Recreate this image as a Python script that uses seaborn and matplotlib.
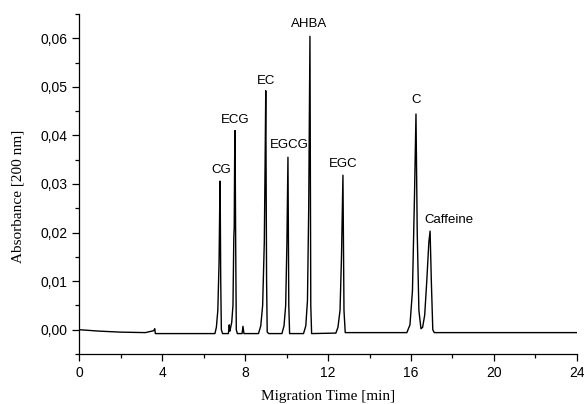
import matplotlib
matplotlib.use("Agg")
import matplotlib.pyplot as plt
from matplotlib.ticker import MultipleLocator, FuncFormatter
import seaborn as sns
import pandas as pd

# Electropherogram trace (time in min, absorbance)
time_min = [0.0, 1.0, 2.0, 3.2, 3.6, 3.65, 3.68, 5.0, 6.55,
            6.62, 6.69, 6.75, 6.78, 6.80, 6.83, 6.86, 6.92,
            7.20, 7.24, 7.27, 7.31, 7.36, 7.42, 7.46, 7.48, 7.50, 7.52, 7.55, 7.58, 7.63,
            7.86, 7.90, 7.95,
            8.65, 8.76, 8.85, 8.93, 8.97, 9.00, 9.04, 9.07, 9.15,
            9.78, 9.88, 9.96, 10.02, 10.07, 10.11, 10.15,
            10.82, 10.93, 11.01, 11.07, 11.13, 11.17, 11.21,
            12.38, 12.48, 12.58, 12.65, 12.72, 12.77, 12.83,
            15.80, 15.95, 16.07, 16.17, 16.24, 16.30, 16.38, 16.48, 16.56,
            16.66, 16.76, 16.86, 16.92, 16.98, 17.05, 17.12, 24.0]
absorbance = [0.0, -0.0003, -0.0005, -0.0006, -0.0002, 0.0002, -0.0008, -0.0008, -0.0008,
              0.0005, 0.004, 0.014, 0.025, 0.0306, 0.010, 0.000, -0.0008,
              -0.0008, 0.0010, -0.0003, 0.0005, 0.0015, 0.005, 0.019, 0.021, 0.035, 0.0410, 0.018, 0.000, -0.0008,
              -0.0008, 0.0007, -0.0008,
              -0.0008, 0.0008, 0.005, 0.018, 0.035, 0.0492, 0.010, -0.0005, -0.0008,
              -0.0008, 0.0008, 0.005, 0.018, 0.0355, 0.005, -0.0008,
              -0.0008, 0.0008, 0.006, 0.025, 0.0604, 0.005, -0.0008,
              -0.0007, 0.0005, 0.004, 0.015, 0.0318, 0.004, -0.0006,
              -0.0006, 0.001, 0.008, 0.028, 0.0444, 0.020, 0.004, 0.0002, 0.0005,
              0.003, 0.010, 0.018, 0.0203, 0.010, 0.000, -0.0006, -0.0006]

peak_names = ["CG", "ECG", "EC", "EGCG", "AHBA", "EGC", "C", "Caffeine"]
label_x = [6.84, 7.52, 9.01, 10.12, 11.08, 12.72, 16.24, 17.83]
label_y = [0.0329, 0.0431, 0.0511, 0.0380, 0.0630, 0.0341, 0.0472, 0.0226]

df = pd.DataFrame({"t": time_min, "a": absorbance})

sns.set_style("ticks")
plt.rcParams.update({"text.color": "black", "axes.labelcolor": "black",
                     "xtick.color": "black", "ytick.color": "black",
                     "axes.edgecolor": "black"})
fig = plt.figure(figsize=(5.84, 4.04), dpi=100)
ax = fig.add_axes([0.1353, 0.1238, 0.8527, 0.8416])
sns.lineplot(data=df, x="t", y="a", ax=ax, color="black", linewidth=1.0,
             estimator=None, sort=False)

for name, x, y in zip(peak_names, label_x, label_y):
    ax.text(x, y, name, ha="center", va="center", fontsize=9.5,
            family="Liberation Sans", color="black")

ax.set_xlim(0, 24)
ax.set_ylim(-0.005, 0.065)
ax.xaxis.set_major_locator(MultipleLocator(4))
ax.xaxis.set_minor_locator(MultipleLocator(2))
ax.yaxis.set_major_locator(MultipleLocator(0.01))
ax.yaxis.set_minor_locator(MultipleLocator(0.005))
ax.yaxis.set_major_formatter(FuncFormatter(lambda v, p: f"{v:.2f}".replace(".", ",").replace("-0,00", "0,00")))
ax.tick_params(which="major", direction="out", length=5, width=0.9, labelsize=10, colors="black")
ax.tick_params(which="minor", direction="out", length=3, width=0.9, colors="black")
for lab in ax.get_xticklabels() + ax.get_yticklabels():
    lab.set_family("Liberation Sans")
ax.set_ylim(-0.005, 0.065)
ax.set_xlim(0, 24)
sns.despine(ax=ax)
for s in ["left", "bottom"]:
    ax.spines[s].set_linewidth(0.9)
    ax.spines[s].set_color("black")
ax.set_xlabel("Migration Time [min]", family="Liberation Serif", fontsize=11, labelpad=7)
ax.set_ylabel("Absorbance [200 nm]", family="Liberation Serif", fontsize=11)
ax.yaxis.set_label_coords(-0.110, 0.465)
ax.patch.set_alpha(0)
fig.savefig("out.png", dpi=100)
